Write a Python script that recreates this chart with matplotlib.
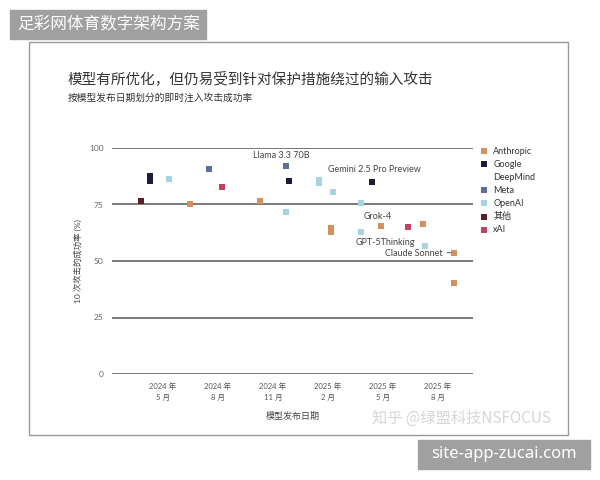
import matplotlib.pyplot as plt
from matplotlib.patches import Rectangle
from matplotlib.lines import Line2D

plt.rcParams['font.family'] = ['Lato', 'Noto Sans CJK SC', 'DejaVu Sans']

# months since 2024-05
tick_pos    = [0, 3, 6, 9, 12, 15]
tick_labels = ['2024 年\n5 月', '2024 年\n8 月', '2024 年\n11 月',
               '2025 年\n2 月', '2025 年\n5 月', '2025 年\n8 月']
y_ticks     = [0, 25, 50, 75, 100]

anthropic_x = [1.5, 5.3, 9.2, 9.2, 11.9, 14.2, 15.9, 15.9]
anthropic_y = [75.0, 76.5, 64.5, 63.0, 65.5, 66.2, 53.7, 40.1]
google_x    = [-0.7, -0.7, 6.9, 11.4]
google_y    = [87.6, 85.2, 85.4, 85.1]
meta_x      = [2.5, 6.7]
meta_y      = [90.8, 92.2]
openai_x    = [0.33, 6.7, 8.5, 8.5, 9.3, 10.8, 10.8, 14.3]
openai_y    = [86.3, 71.8, 86.0, 84.3, 80.7, 75.7, 62.7, 56.8]
other_x     = [-1.2]
other_y     = [76.5]
xai_x       = [3.2, 13.4]
xai_y       = [82.6, 65.2]

series = [('Anthropic', anthropic_x, anthropic_y, '#d4905e'),
          ('Google',    google_x,    google_y,    '#1e1b3a'),
          ('Meta',      meta_x,      meta_y,      '#5a6f99'),
          ('OpenAI',    openai_x,    openai_y,    '#a9d3e3'),
          ('其他',       other_x,     other_y,     '#5c1f2a'),
          ('xAI',       xai_x,       xai_y,       '#c2415e')]

W, H = 600, 480
fig = plt.figure(figsize=(6, 4.8), dpi=100)

def px_box(x0, y0, x1, y1):     # pixel box (top-left origin) -> figure fractions
    return [x0 / W, (H - y1) / H, (x1 - x0) / W, (y1 - y0) / H]

# outer frame of the screenshot
fig.patches.append(Rectangle((29 / W, (H - 435) / H), 539 / W, 393 / H,
                             transform=fig.transFigure, fill=False,
                             edgecolor='#9a9a9a', linewidth=1.0))

ax = fig.add_axes(px_box(112, 148, 473, 374))
ax.set_xlim(-2.79, 16.94)
ax.set_ylim(0, 100)

for name, xs, ys, c in series:
    ax.scatter(xs, ys, marker='s', s=24, color=c, linewidths=0,
               label=name, zorder=3, clip_on=False)

ax.set_yticks(y_ticks)
ax.set_xticks(tick_pos)
ax.set_xticklabels(tick_labels, fontsize=5.5, color='#555555', linespacing=1.6)
ax.tick_params(axis='y', length=0, pad=6, labelsize=6, labelcolor='#666666')
ax.tick_params(axis='x', length=0, pad=6)
ax.grid(axis='y', color='#555555', linewidth=1.1)
ax.set_axisbelow(True)
for s in ax.spines.values():
    s.set_visible(False)

ax.set_ylabel('10 次攻击的成功率 (%)', fontsize=6, color='#444444', labelpad=5)
ax.set_xlabel('模型发布日期', fontsize=6.5, color='#444444', labelpad=8)

ann = dict(fontsize=6.5, color='#444444', zorder=4)
ax.text(6.45, 96.9, 'Llama 3.3 70B', ha='center', va='center', **ann)
ax.text(11.56, 90.7, 'Gemini 2.5 Pro Preview', ha='center', va='center', **ann)
ax.text(11.72, 69.9, 'Grok-4', ha='center', va='center', **ann)
ax.text(12.13, 58.4, 'GPT-5Thinking', ha='center', va='center', **ann)
ax.annotate('Claude Sonnet', xy=(15.75, 53.7), xytext=(15.3, 53.5),
            ha='right', va='center',
            arrowprops=dict(arrowstyle='-', color='#666666', lw=0.8,
                            shrinkA=1, shrinkB=0), **ann)

# legend: "DeepMind" sits on its own row under "Google", with no marker
handles, labels = ax.get_legend_handles_labels()
handles.insert(2, Line2D([], [], linestyle='none'))
labels.insert(2, 'DeepMind')
ax.legend(handles, labels, loc='upper left',
          bbox_to_anchor=(477 / W, (H - 143) / H),
          bbox_transform=fig.transFigure, frameon=False, fontsize=6.5,
          handlelength=0.8, handletextpad=0.6, labelspacing=0.45,
          borderaxespad=0, markerscale=1.0, labelcolor='#333333')

fig.text(68 / W, (H - 79) / H, '模型有所优化，但仍易受到针对保护措施绕过的输入攻击',
         fontsize=10.5, color='#333333', va='center',
         family=['Noto Sans CJK SC', 'DejaVu Sans'])
fig.text(68 / W, (H - 98) / H, '按模型发布日期划分的即时注入攻击成功率',
         fontsize=7, color='#333333', va='center',
         family=['Noto Sans CJK SC', 'DejaVu Sans'])

# watermarks
fig.text(372 / W, (H - 418) / H, '知乎 @绿盟科技NSFOCUS', fontsize=11,
         color='#d6d6d6', va='center',
         family=['Noto Sans CJK SC', 'DejaVu Sans'])

fig.patches.append(Rectangle((10 / W, (H - 39) / H), 196 / W, 29 / H,
                             transform=fig.transFigure, color='#a0a0a0'))
fig.text(109 / W, (H - 24.5) / H, '足彩网体育数字架构方案', fontsize=12,
         color='white', ha='center', va='center',
         family=['Noto Sans CJK SC', 'DejaVu Sans'])

fig.patches.append(Rectangle((418 / W, (H - 469) / H), 172 / W, 29 / H,
                             transform=fig.transFigure, color='#a0a0a0'))
fig.text(504 / W, (H - 454.5) / H, 'site-app-zucai.com', fontsize=12,
         color='white', ha='center', va='center', family='Noto Sans')

fig.savefig('out.png', dpi=100)
